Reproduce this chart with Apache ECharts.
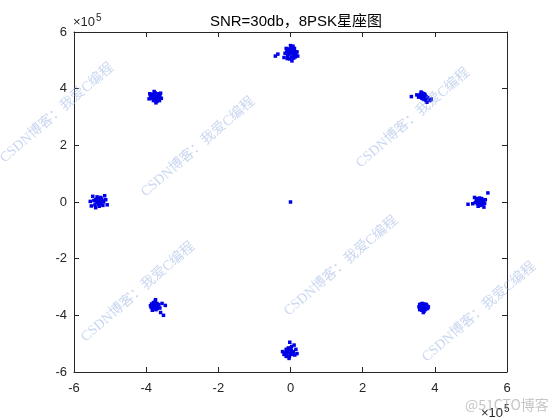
<!DOCTYPE html>
<html>
<head>
<meta charset="utf-8">
<script src="https://cdn.jsdelivr.net/npm/echarts@6/dist/echarts.min.js"></script>
<style>html,body{margin:0;padding:0;background:#fff;}#c{width:560px;height:420px;}</style>
</head>
<body>
<div id="c"></div>
<script>
// values in units of 1e5
const titleText = 'SNR=30db，8PSK星座图';
const xTicks = [-6, -4, -2, 0, 2, 4, 6];
const yTicks = [-6, -4, -2, 0, 2, 4, 6];

const clusterT = [[-0.05,5.40],[0.02,5.45],[0.08,5.38],[0.12,5.30],[-0.10,5.33],[0.00,5.28],[0.06,5.24],[-0.04,5.20],[0.10,5.18],[0.15,5.22],[-0.08,5.15],[0.03,5.12],[0.09,5.08],[-0.02,5.05],[0.18,5.30],[-0.15,5.25],[0.05,5.33],[-0.06,5.27],[0.13,5.12],[0.00,5.52],[0.07,5.50],[-0.12,5.42],[0.20,5.15],[-0.18,5.10],[-0.35,5.22],[-0.42,5.15],[0.04,4.98],[-0.03,5.38],[0.11,5.42],[-0.09,5.06]];
const clusterTR = [[3.60,3.80],[3.65,3.78],[3.70,3.75],[3.62,3.72],[3.68,3.70],[3.74,3.68],[3.78,3.64],[3.82,3.60],[3.58,3.76],[3.66,3.84],[3.72,3.80],[3.76,3.72],[3.70,3.62],[3.64,3.66],[3.80,3.68],[3.86,3.58],[3.75,3.58],[3.55,3.70],[3.62,3.88],[3.68,3.64],[3.73,3.76],[3.35,3.72],[3.50,3.78],[3.90,3.63],[3.78,3.52],[3.69,3.82]];
const clusterR = [[5.15,0.05],[5.20,0.10],[5.25,0.08],[5.30,0.04],[5.22,0.00],[5.28,-0.03],[5.18,-0.06],[5.32,-0.08],[5.26,-0.12],[5.35,0.02],[5.12,-0.02],[5.24,0.14],[5.38,-0.05],[5.20,-0.15],[5.30,0.12],[5.16,0.12],[5.27,0.03],[5.23,-0.04],[5.33,0.07],[5.40,0.08],[5.05,-0.06],[4.92,-0.08],[5.10,0.16],[5.47,0.32],[5.36,-0.18],[5.19,0.02]];
const clusterBR = [[3.58,-3.62],[3.65,-3.58],[3.72,-3.60],[3.78,-3.65],[3.62,-3.68],[3.70,-3.66],[3.76,-3.72],[3.60,-3.75],[3.68,-3.74],[3.74,-3.80],[3.64,-3.82],[3.80,-3.76],[3.56,-3.70],[3.70,-3.86],[3.66,-3.64],[3.72,-3.70],[3.62,-3.60],[3.82,-3.70],[3.58,-3.80],[3.68,-3.90],[3.76,-3.62],[3.66,-3.78]];
const clusterB = [[-0.12,-5.20],[-0.05,-5.22],[0.02,-5.25],[-0.08,-5.30],[0.00,-5.35],[-0.15,-5.32],[-0.10,-5.40],[0.05,-5.38],[-0.03,-5.45],[0.08,-5.28],[-0.18,-5.38],[-0.06,-5.15],[0.03,-5.10],[0.10,-5.05],[0.15,-5.20],[-0.02,-4.95],[0.06,-5.30],[-0.12,-5.45],[-0.22,-5.28],[0.12,-5.40],[-0.04,-5.52],[0.18,-5.35],[-0.09,-5.26],[0.01,-5.18]];
const clusterBL = [[-3.80,-3.55],[-3.75,-3.50],[-3.70,-3.58],[-3.78,-3.62],[-3.72,-3.66],[-3.82,-3.68],[-3.68,-3.70],[-3.76,-3.74],[-3.85,-3.60],[-3.65,-3.62],[-3.73,-3.80],[-3.80,-3.76],[-3.62,-3.74],[-3.70,-3.64],[-3.78,-3.70],[-3.88,-3.66],[-3.76,-3.58],[-3.56,-3.58],[-3.60,-3.90],[-3.83,-3.82],[-3.74,-3.45],[-3.69,-3.76],[-3.86,-3.72],[-3.47,-3.65],[-3.52,-4.00]];
const clusterL = [[-5.40,0.08],[-5.35,0.12],[-5.28,0.10],[-5.22,0.06],[-5.30,0.02],[-5.38,-0.02],[-5.25,-0.05],[-5.32,-0.08],[-5.45,0.05],[-5.18,0.00],[-5.36,0.18],[-5.26,0.16],[-5.42,-0.10],[-5.20,-0.12],[-5.30,-0.15],[-5.48,0.20],[-5.55,0.02],[-5.12,0.08],[-5.08,-0.10],[-5.34,0.05],[-5.27,-0.02],[-5.52,-0.14],[-5.15,0.22],[-5.40,-0.20],[-5.24,0.10]];
const clusterTL = [[-3.82,3.80],[-3.75,3.85],[-3.68,3.82],[-3.62,3.76],[-3.70,3.72],[-3.78,3.70],[-3.85,3.66],[-3.72,3.62],[-3.65,3.65],[-3.80,3.58],[-3.88,3.74],[-3.74,3.78],[-3.66,3.70],[-3.60,3.84],[-3.78,3.90],[-3.70,3.55],[-3.90,3.82],[-3.58,3.66],[-3.76,3.66],[-3.83,3.73],[-3.69,3.77],[-3.73,3.50],[-3.63,3.58],[-3.92,3.64]];
const clusterC = [[0.00,0.00]];

const watermarkText = 'CSDN博客：我爱C编程';
const watermarkCenters = [[57,113],[198,147],[413,118],[138,292],[341,266],[479,312]];

const allPoints = [].concat(clusterT, clusterTR, clusterR, clusterBR, clusterB, clusterBL, clusterL, clusterTL, clusterC);

const chart = echarts.init(document.getElementById('c'), null, {renderer: 'canvas'});
const axisFont = {color: '#262626', fontSize: 13, fontFamily: 'Liberation Sans, Arial, sans-serif'};
const baseAxis = {
  type: 'value', min: -6, max: 6, interval: 2,
  axisLine: {show: true, onZero: false, lineStyle: {color: '#262626', width: 1}},
  axisTick: {show: true, inside: true, length: 5, lineStyle: {color: '#262626'}},
  splitLine: {show: false}
};
const graphics = watermarkCenters.map(c => ({
  type: 'text', x: c[0], y: c[1], rotation: 0.71, z: 100,
  style: {text: watermarkText, fill: 'rgba(150,175,225,0.5)', font: '14px "Liberation Serif", "Noto Sans CJK SC", serif', align: 'center', verticalAlign: 'middle'}
}));
graphics.push({type: 'text', left: 73, top: 13, z: 50,
  style: {text: '×10{s|5}', rich: {s: {fontSize: 10, padding: [0,0,8,1]}}, fill: '#262626', font: '13px "Liberation Sans", Arial, sans-serif'}});
graphics.push({type: 'text', left: 481, top: 404, z: 50,
  style: {text: '×10{s|5}', rich: {s: {fontSize: 10, padding: [0,0,8,1]}}, fill: '#262626', font: '13px "Liberation Sans", Arial, sans-serif'}});
graphics.push({type: 'text', left: 465, top: 398, z: 120,
  style: {text: '@51CTO博客', fill: 'rgba(150,150,150,0.55)', font: '14px "Noto Sans CJK SC", sans-serif'}});

chart.setOption({
  animation: false,
  backgroundColor: '#fff',
  title: {text: titleText, left: 291, top: 9, textAlign: 'center',
    textStyle: {color: '#000', fontSize: 15, fontWeight: 'normal', fontFamily: '"Liberation Sans", "Noto Sans CJK SC", Arial, sans-serif'}},
  grid: {left: 74, right: 53, top: 32, bottom: 48, containLabel: false},
  xAxis: [
    Object.assign({}, baseAxis, {position: 'bottom', axisLabel: Object.assign({margin: 10}, axisFont)}),
    Object.assign({}, baseAxis, {position: 'top', axisLabel: {show: false}})
  ],
  yAxis: [
    Object.assign({}, baseAxis, {position: 'left', axisLabel: Object.assign({margin: 7}, axisFont)}),
    Object.assign({}, baseAxis, {position: 'right', axisLabel: {show: false}})
  ],
  series: [{
    type: 'scatter', xAxisIndex: 0, yAxisIndex: 0,
    symbol: 'rect', symbolSize: 3.5,
    itemStyle: {color: '#0000e6', opacity: 1},
    data: allPoints
  }],
  graphic: graphics
});
</script>
</body>
</html>
